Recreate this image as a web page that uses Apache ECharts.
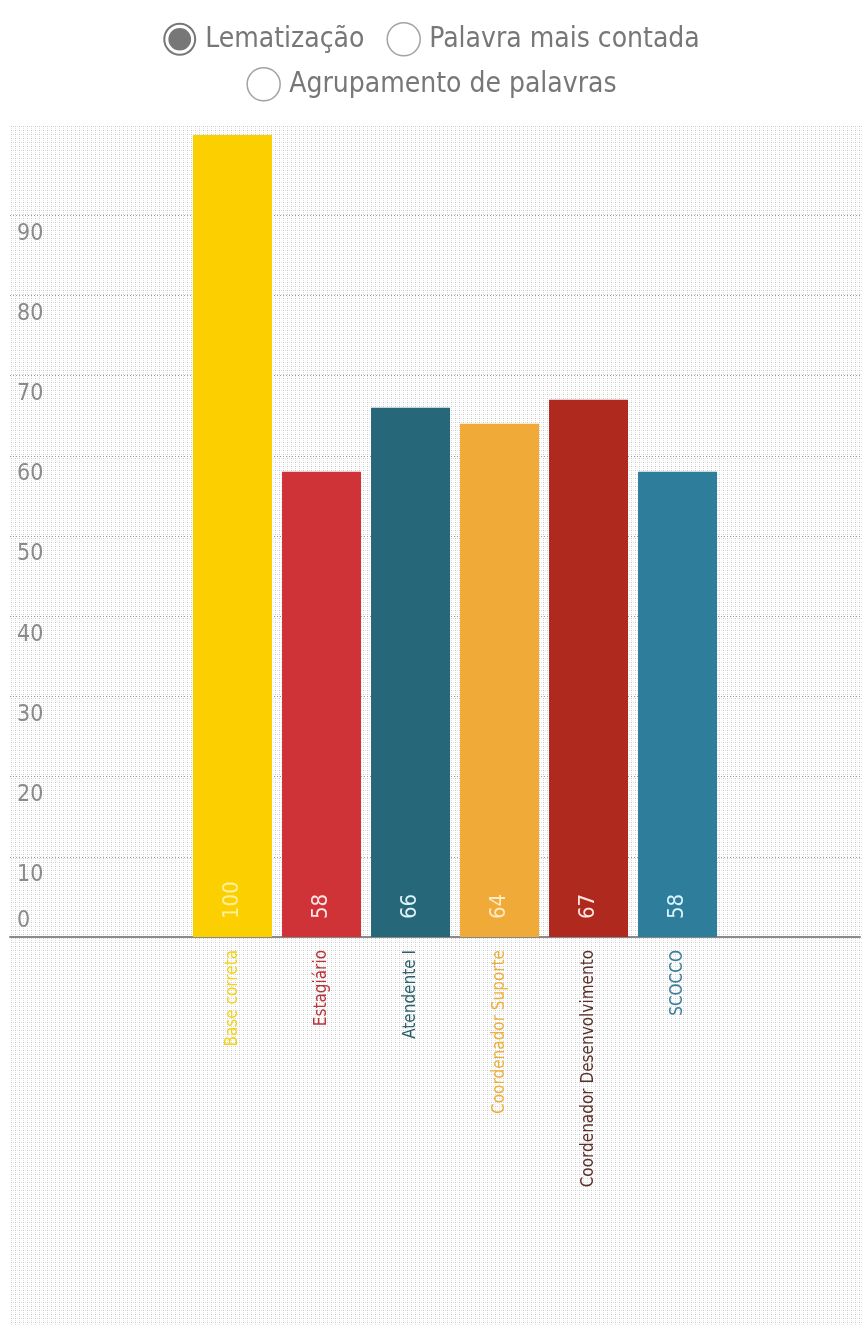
<!DOCTYPE html>
<html>
<head>
<meta charset="utf-8">
<script src="https://cdn.jsdelivr.net/npm/echarts@6/dist/echarts.min.js"></script>
<style>
    html, body {margin: 0; padding: 0; background: #fff;}
    #chart {width: 863px; height: 1332px;}
</style>
</head>
<body>
<div id="chart"></div>
<script>
// chart data
const categories = ['Base correta', 'Estagiário', 'Atendente I', 'Coordenador Suporte', 'Coordenador Desenvolvimento', 'SCOCCO'];
const values = [100, 58, 66, 64, 67, 58];
const barColors = ['#fcd000', '#cf3338', '#26687a', '#f0aa37', '#b0291f', '#2d7d9b'];
const valueLabelColors = ['#fff09a', '#ffe4e4', '#dff4f8', '#fde9c4', '#ffe6e0', '#d9f3ff'];
const categoryLabelColors = ['#f2d21a', '#b8343a', '#2a5f6c', '#eeb03c', '#5a3129', '#3a7f99'];
const legendNames = ['Lematização', 'Palavra mais contada', 'Agrupamento de palavras'];
const yMin = 0, yMax = 100, yStep = 10;

const FONT = "'Liberation Sans Narrow', 'DejaVu Sans Condensed', sans-serif";

// dotted paper texture for the background
function makeDots() {
    let c = document.createElement('canvas');
    c.width = 4;
    c.height = 4;
    let ctx = c.getContext('2d');
    ctx.fillStyle = '#ffffff';
    ctx.fillRect(0, 0, 4, 4);
    ctx.fillStyle = '#c8c8c8';
    ctx.fillRect(1, 1, 1, 1);
    ctx.fillStyle = '#e0e0e0';
    ctx.fillRect(3, 1, 1, 1);
    ctx.fillRect(1, 3, 1, 1);
    return c;
}

// radio-button icons
const radioOn = 'path://M16,0 A16,16 0 1,1 -16,0 A16,16 0 1,1 16,0 Z M14,0 A14,14 0 1,0 -14,0 A14,14 0 1,0 14,0 Z M11,0 A11,11 0 1,1 -11,0 A11,11 0 1,1 11,0 Z';
const radioOff = {color: '#ffffff', borderColor: '#8c8c8c', borderWidth: 1.5};

let legendText = {fontFamily: FONT, fontSize: 28, color: '#777777', padding: [0, 0, 0, 4]};

let myChart = echarts.init(document.getElementById('chart'));

let option = {
    backgroundColor: '#ffffff',
    animation: false,
    graphic: {
        elements: [{
            type: 'rect',
            left: 10,
            top: 125,
            z: -10,
            silent: true,
            shape: {width: 853, height: 1200},
            style: {fill: {image: makeDots(), repeat: 'repeat'}}
        }]
    },
    legend: [
        {
            top: 17,
            left: 'center',
            selectedMode: false,
            itemWidth: 33,
            itemHeight: 33,
            itemGap: 22,
            textStyle: legendText,
            data: [
                {name: legendNames[0], icon: radioOn, itemStyle: {color: '#777777'}},
                {name: legendNames[1], icon: 'circle', itemStyle: radioOff}
            ]
        },
        {
            top: 62,
            left: 'center',
            selectedMode: false,
            itemWidth: 33,
            itemHeight: 33,
            textStyle: legendText,
            data: [
                {name: legendNames[2], icon: 'circle', itemStyle: radioOff}
            ]
        }
    ],
    grid: {left: 10, right: 3, top: 135, bottom: 395, containLabel: false},
    xAxis: {
        type: 'value',
        min: -2.5,
        max: 7.05,
        interval: 0.5,
        axisLine: {show: true, lineStyle: {color: '#8a8a8a', width: 2}},
        axisTick: {show: false},
        splitLine: {show: false},
        axisLabel: {
            rotate: 90,
            margin: 13,
            fontFamily: FONT,
            fontSize: 17,
            showMaxLabel: false,
            formatter: v => Number.isInteger(v) && categories[v] ? categories[v] : '',
            color: (v) => categoryLabelColors[Math.round(v)] || '#777'
        }
    },
    yAxis: {
        type: 'value',
        min: yMin,
        max: yMax,
        interval: yStep,
        axisLine: {show: false},
        axisTick: {show: false},
        splitLine: {
            show: true,
            showMinLine: false,
            showMaxLine: false,
            lineStyle: {color: '#9a9a9a', width: 1, type: [1, 2]}
        },
        axisLabel: {
            inside: true,
            margin: 7,
            fontFamily: FONT,
            fontSize: 23,
            color: '#8a8a8a',
            align: 'left',
            verticalAlign: 'top',
            verticalAlignMinLabel: 'bottom',
            padding: [7, 0, 4, 0],
            showMaxLabel: false
        }
    },
    series: [
        {
            name: legendNames[0],
            type: 'bar',
            barWidth: 79,
            z: 3,
            label: {
                show: true,
                position: 'insideBottom',
                distance: 18,
                rotate: 90,
                align: 'left',
                verticalAlign: 'middle',
                fontFamily: FONT,
                fontSize: 22
            },
            data: categories.map((c, i) => ({
                value: [i, values[i]],
                itemStyle: {color: barColors[i]},
                label: {color: valueLabelColors[i], formatter: String(values[i])}
            }))
        },
        {name: legendNames[1], type: 'scatter', data: []},
        {name: legendNames[2], type: 'scatter', data: []}
    ]
};

// use configuration item and data specified to show chart
myChart.setOption(option);
</script>
</body>
</html>
